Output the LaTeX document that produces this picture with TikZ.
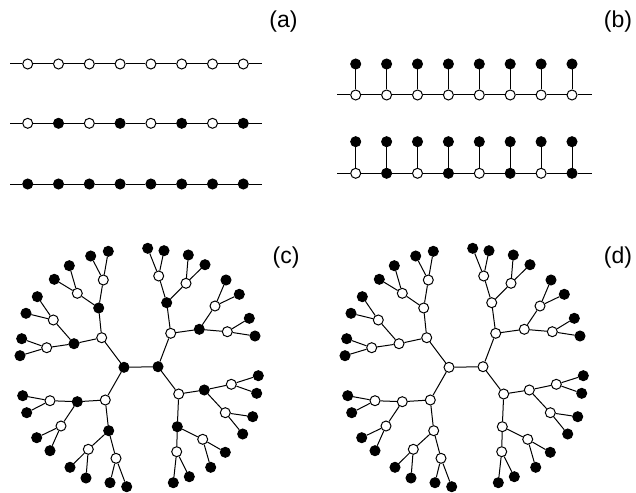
\documentclass[tikz,border=0pt]{standalone}
\usepackage{fontspec}
\setmainfont{Liberation Sans}
\usepackage{tikz}
\definecolor{SiteBlack}{RGB}{0,0,0}
\tikzset{
  opensite/.style={circle, draw=SiteBlack, fill=white, line width=1pt, minimum size=10pt, inner sep=0pt},
  filledsite/.style={opensite, fill=SiteBlack},
  bond/.style={line width=1pt, SiteBlack},
  panellabel/.style={font=\fontsize{23}{27}\selectfont, inner sep=0pt}
}
% tree with two cores, four branches, leaves always filled
% #1 name prefix, #2 style of generations 0 and 2
\newcommand{\DrawDendrimer}[2]{%
  \node[#2] (#1-L) at (124,367.3) {};
  \node[#2] (#1-R) at (158,366.7) {};
  \draw[bond] (#1-L) -- (#1-R);
  \foreach \n/\p/\x/\y in {L1/L/101.7/337.7, L2/L/105.3/400, R1/R/170.7/333.3, R2/R/178.7/394} {
    \node[opensite] (#1-\n) at (\x,\y) {};
    \draw[bond] (#1-\p) -- (#1-\n);
  }
  \foreach \n/\p/\x/\y in {L11/L1/98.7/308, L12/L1/74/343.7, L21/L2/77.3/401.7, L22/L2/108.7/430.7,
      R11/R1/166.7/302.7, R12/R1/199.3/329.3, R21/R2/204.3/390, R22/R2/177.3/426.7} {
    \node[#2] (#1-\n) at (\x,\y) {};
    \draw[bond] (#1-\p) -- (#1-\n);
  }
  \foreach \n/\p/\x/\y in {L111/L11/103.3/280, L112/L11/77.3/293.3, L121/L12/53.3/320, L122/L12/46.7/347.7,
      L211/L21/50/400.7, L212/L21/61/426, L221/L22/88.3/449.3, L222/L22/116/458.3,
      R111/R11/158.7/276, R112/R11/186/283.3, R121/R12/215/306, R122/R12/227.3/331.7,
      R211/R21/231.3/384.3, R212/R21/225.3/412.7, R221/R22/202.7/439.3, R222/R22/176.7/451.7} {
    \node[opensite] (#1-\n) at (\x,\y) {};
    \draw[bond] (#1-\p) -- (#1-\n);
  }
  \foreach \n/\p/\x/\y in {L1111/L111/90.7/256, L1112/L111/108.3/251.3,
      L1121/L112/69.3/265.7, L1122/L112/54.3/279.3,
      L1211/L121/37.3/296.7, L1212/L121/26/313.3,
      L1221/L122/21.7/338.7, L1222/L122/20/355.7,
      L2111/L211/22.7/395.7, L2112/L211/26.7/412.7,
      L2121/L212/36.7/437.7, L2122/L212/50/450.7,
      L2211/L221/70/467.3, L2212/L221/86/478,
      L2221/L222/110/482.7, L2222/L222/126.7/486.7,
      R1111/R111/147.7/248.3, R1112/R111/164/250.7,
      R1121/R112/188.3/255, R1122/R112/205/264.7,
      R1211/R121/226/280, R1212/R121/239.3/294.3,
      R1221/R122/249.3/318.3, R1222/R122/255/336,
      R2111/R211/258.3/375.7, R2112/R211/256.7/393.3,
      R2121/R212/252.7/416.7, R2122/R212/242.7/434,
      R2211/R221/225.3/452.3, R2212/R221/210.7/467.3,
      R2221/R222/189.3/476.7, R2222/R222/173.3/482.7} {
    \node[filledsite] (#1-\n) at (\x,\y) {};
    \draw[bond] (#1-\p) -- (#1-\n);
  }%
}

\begin{document}
\begin{tikzpicture}[x=1pt, y=-1pt]
  \useasboundingbox (0,0) rectangle (636,492);
  % (a) linear chains
  \foreach \r/\y in {1/64, 2/123.3, 3/184} {
    \coordinate (a\r-l) at (10,\y);
    \coordinate (a\r-r) at (261.7,\y);
  }
  \foreach \i [evaluate=\i as \xx using 27.7+30.8*\i] in {0,...,7} {
    \node[opensite] (a1-\i) at (\xx,64) {};
    \ifodd\i \node[filledsite] (a2-\i) at (\xx,123.3) {};
    \else \node[opensite] (a2-\i) at (\xx,123.3) {}; \fi
    \node[filledsite] (a3-\i) at (\xx,184) {};
  }
  \foreach \r in {1,2,3} {
    \draw[bond] (a\r-l) -- (a\r-0);
    \foreach \i [count=\j] in {0,...,6} \draw[bond] (a\r-\i) -- (a\r-\j);
    \draw[bond] (a\r-7) -- (a\r-r);
  }
  % (b) chains with side groups
  \foreach \r/\y in {1/95, 2/173.3} {
    \coordinate (b\r-l) at (337.3,\y);
    \coordinate (b\r-r) at (591.7,\y);
  }
  \foreach \i [evaluate=\i as \xx using 355.7+30.9*\i] in {0,...,7} {
    \node[opensite] (b1-\i) at (\xx,95) {};
    \node[filledsite] (b1-p\i) at (\xx,64) {};
    \ifodd\i \node[filledsite] (b2-\i) at (\xx,173.3) {};
    \else \node[opensite] (b2-\i) at (\xx,173.3) {}; \fi
    \node[filledsite] (b2-p\i) at (\xx,141.7) {};
  }
  \foreach \r in {1,2} {
    \draw[bond] (b\r-l) -- (b\r-0);
    \foreach \i [count=\j] in {0,...,6} \draw[bond] (b\r-\i) -- (b\r-\j);
    \draw[bond] (b\r-7) -- (b\r-r);
    \foreach \i in {0,...,7} \draw[bond] (b\r-\i) -- (b\r-p\i);
  }
  % (c) and (d) dendrimers
  \DrawDendrimer{c}{filledsite}
  \begin{scope}[xshift=325pt]
    \DrawDendrimer{d}{opensite}
  \end{scope}
  % panel labels
  \node[panellabel] (lab-a) at (283.5,22) {(a)};
  \node[panellabel] (lab-b) at (618,22) {(b)};
  \node[panellabel] (lab-c) at (286,258) {(c)};
  \node[panellabel] (lab-d) at (618,258) {(d)};
\end{tikzpicture}
\end{document}
